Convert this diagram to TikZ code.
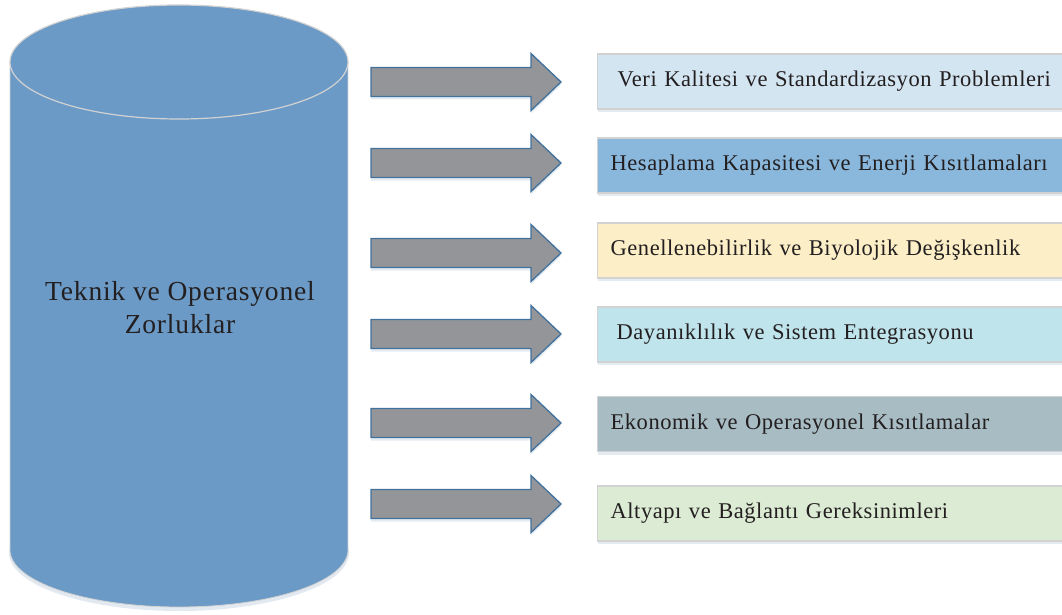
\documentclass[tikz,border=0pt]{standalone}
\usepackage{fontspec}
\setmainfont{Liberation Serif}
\newfontfamily\boxfont[LetterSpace=2.5]{Liberation Serif}
\newfontfamily\cylfont[LetterSpace=3]{Liberation Serif}
\usetikzlibrary{shadows,positioning}
\definecolor{cyl}{HTML}{6B9AC6}
\definecolor{rim}{HTML}{D2D2D2}
\definecolor{arrgray}{HTML}{939598}
\definecolor{arredge}{HTML}{41719C}
\definecolor{ink}{HTML}{231F20}
\definecolor{b1}{HTML}{D3E5F1}
\definecolor{b2}{HTML}{8AB8DC}
\definecolor{b3}{HTML}{FCEFC7}
\definecolor{b4}{HTML}{C0E4EC}
\definecolor{b5}{HTML}{A8BCC3}
\definecolor{b6}{HTML}{DCEBD4}
\tikzset{
  glow/.style={drop shadow={shadow xshift=0pt, shadow yshift=-3pt, fill=arredge!40, opacity=0.35}},
  bigarrow/.style={fill=arrgray, draw=arredge, line width=1.3pt, line join=miter, glow},
  itembox/.style={draw=rim, line width=1.2pt, anchor=west, minimum height=55pt,
    text width=444pt, inner xsep=13pt, align=left, text=ink,
    font=\boxfont\fontsize{22.5}{26}\selectfont, glow},
}
\begin{document}
\begin{tikzpicture}[x=1pt, y=-1pt]
	\useasboundingbox (0,0) rectangle (1062,615);
	\clip (0,0) rectangle (1062,615);

	% cylinder
	\fill[arredge!30, opacity=0.5] (179,553) ellipse [x radius=170, y radius=58];
	\fill[cyl] (10,62) rectangle (348,550);
	\fill[cyl] (179,550) ellipse [x radius=169, y radius=57];
	\draw[rim, line width=0.8pt] (10,62) -- (10,550) arc[start angle=180, end angle=0, x radius=169, y radius=57] -- (348,62);
	\fill[cyl] (179,62) ellipse [x radius=169, y radius=57];
	\draw[rim, line width=1.2pt] (179,62) ellipse [x radius=169, y radius=57];

	\node[text=ink, align=center, font=\cylfont\fontsize{27.5}{33}\selectfont] (title) at (180,308)
		{Teknik ve Operasyonel\\Zorluklar};

	% arrows
	\foreach \c in {82,163,253,334,423,504}
		\draw[bigarrow] (371,\c-14.5) -- (531,\c-14.5) -- (531,\c-28.5) -- (561,\c)
			-- (531,\c+28.5) -- (531,\c+14.5) -- (371,\c+14.5) -- cycle;

	% boxes
	\node[itembox, fill=b1] (veri) at (597,81.5) {\hspace{7pt}Veri Kalitesi ve Standardizasyon Problemleri};
	\node[itembox, fill=b2] (hesap) at (597,165.5) {Hesaplama Kapasitesi ve Enerji Kısıtlamaları};
	\node[itembox, fill=b3] (genel) at (597,250.5) {Genellenebilirlik ve Biyolojik Değişkenlik};
	\node[itembox, fill=b4] (dayan) at (597,334.5) {\hspace{6pt}Dayanıklılık ve Sistem Entegrasyonu};
	\node[itembox, fill=b5] (ekon) at (597,424) {Ekonomik ve Operasyonel Kısıtlamalar};
	\node[itembox, fill=b6] (altyapi) at (597,513.5) {Altyapı ve Bağlantı Gereksinimleri};
\end{tikzpicture}
\end{document}
